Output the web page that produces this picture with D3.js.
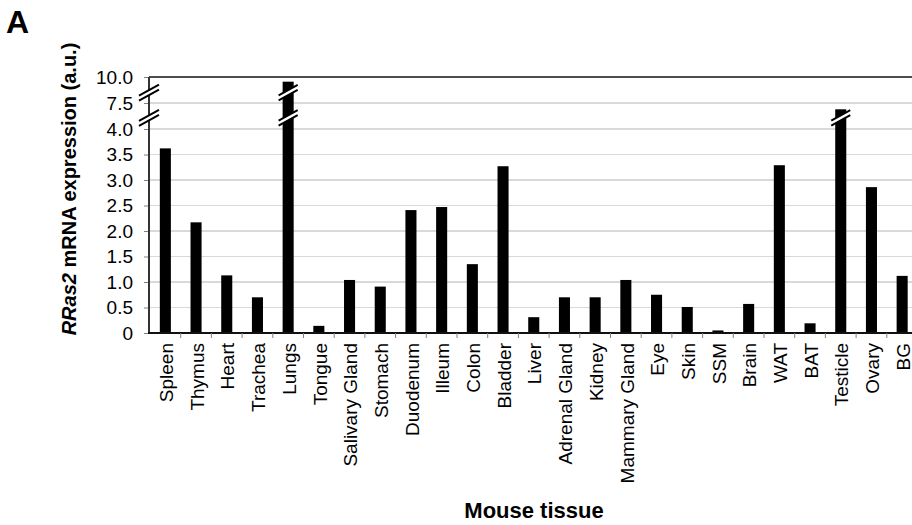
<html>
<head>
  <meta content='text/html;charset=utf-8' http-equiv='Content-Type'>
  <title>RRas2 expression by tissue</title>
<script src="https://cdn.jsdelivr.net/npm/d3@7/dist/d3.min.js"></script>
<style>
body {
  margin: 0px;
  background-color: #ffffff;
  font-family: "Liberation Sans", Arial, sans-serif;
}
svg { display: block; }
.axis text {
  font: 19px "Liberation Sans", Arial, sans-serif;
  fill: #000;
}
.axis path { display: none; }
.grid line {
  stroke: #d9d9d9;
  stroke-width: 1.5;
  shape-rendering: crispEdges;
}
.title {
  font: bold 20px "Liberation Sans", Arial, sans-serif;
  fill: #000;
}
</style>
</head>
<body>
<div class="target"></div>
<script>
// data
var tissues = ["Spleen", "Thymus", "Heart", "Trachea", "Lungs", "Tongue", "Salivary Gland",
  "Stomach", "Duodenum", "Illeum", "Colon", "Bladder", "Liver", "Adrenal Gland", "Kidney",
  "Mammary Gland", "Eye", "Skin", "SSM", "Brain", "WAT", "BAT", "Testicle", "Ovary", "BG"];
var expression = [3.62, 2.17, 1.13, 0.70, 9.55, 0.14, 1.04, 0.91, 2.41, 2.47, 1.35, 3.27,
  0.31, 0.70, 0.70, 1.04, 0.75, 0.51, 0.05, 0.57, 3.29, 0.19, 6.65, 2.86, 1.12];
var yTicks = [0, 0.5, 1, 1.5, 2, 2.5, 3, 3.5, 4, 7.5, 10];
var yTickLabels = ["0", "0.5", "1.0", "1.5", "2.0", "2.5", "3.0", "3.5", "4.0", "7.5", "10.0"];
var axisBreaks = [5.5, 8.5];

barChart(".target");

function barChart(target) {
  'use strict';

  var W = 912, H = 525;
  var left = 149, bottom = 333, plotTop = 77;

  var svg = d3.select(target).append("svg")
    .attr("width", W)
    .attr("height", H);

  svg.append("rect").attr("width", W).attr("height", H).attr("fill", "#fff");

  // broken axis: 0-4 gets most of the room, 4-7.5 and 7.5-10 one grid step each
  var y = d3.scaleLinear()
    .domain([0, 4, 7.5, 10])
    .range([bottom, bottom - 204, bottom - 230, plotTop]);

  var x = d3.scaleBand()
    .domain(tissues)
    .range([150, 150 + 30.7 * tissues.length])
    .padding(0);

  var barW = x.bandwidth() * 0.36;

  // grid
  svg.append("g")
    .attr("class", "grid")
    .selectAll("line")
    .data(yTicks.filter(function(t){ return t > 0 && t < 10; }))
    .enter().append("line")
      .attr("x1", left).attr("x2", W)
      .attr("y1", function(d){ return y(d); })
      .attr("y2", function(d){ return y(d); });

  // top border
  svg.append("line")
    .attr("x1", left).attr("x2", W)
    .attr("y1", y(10)).attr("y2", y(10))
    .attr("stroke", "#4d4d4d").attr("stroke-width", 2);

  // bars
  svg.append("g").selectAll("rect")
    .data(expression)
    .enter().append("rect")
      .attr("x", function(d, i){ return x(tissues[i]) + (x.bandwidth() - barW) / 2; })
      .attr("y", function(d){ return y(d); })
      .attr("width", barW)
      .attr("height", function(d){ return bottom - y(d); })
      .attr("fill", "#000");

  // y axis
  var yAxis = d3.axisLeft(y)
    .tickValues(yTicks)
    .tickFormat(function(d, i){ return yTickLabels[i]; })
    .tickSize(5)
    .tickPadding(11);

  var yg = svg.append("g")
    .attr("class", "axis")
    .attr("transform", "translate(" + left + ",0)")
    .call(yAxis);
  yg.selectAll(".tick line").attr("stroke", "#808080");

  svg.append("line")
    .attr("x1", left).attr("x2", left)
    .attr("y1", plotTop).attr("y2", bottom)
    .attr("stroke", "#333").attr("stroke-width", 2);

  // x axis line + boundary ticks
  svg.append("line")
    .attr("x1", left - 1).attr("x2", W)
    .attr("y1", bottom).attr("y2", bottom)
    .attr("stroke", "#111").attr("stroke-width", 2);

  svg.append("g").selectAll("line")
    .data(tissues.slice(1))
    .enter().append("line")
      .attr("x1", function(d){ return x(d); })
      .attr("x2", function(d){ return x(d); })
      .attr("y1", bottom).attr("y2", bottom + 5)
      .attr("stroke", "#808080").attr("stroke-width", 1);

  // tissue labels
  svg.append("g").attr("class", "axis").selectAll("text")
    .data(tissues)
    .enter().append("text")
      .attr("transform", function(d){
        return "translate(" + (x(d) + x.bandwidth() / 2 + 1) + "," + (bottom + 10) + ") rotate(-90)";
      })
      .attr("dy", "0.35em")
      .attr("text-anchor", "end")
      .text(function(d){ return d; });

  // break marks on the axis and on the bars that run through them
  axisBreaks.forEach(function(b){
    drawBreak(left, y(b), 10);
    expression.forEach(function(v, i){
      if (v > b) drawBreak(x(tissues[i]) + x.bandwidth() / 2, y(b), barW / 2 + 4);
    });
  });

  function drawBreak(cx, cy, half){
    var g = svg.append("g");
    var rise = half * 0.55, gap = 2.5;
    g.append("polygon")
      .attr("points", [
        [cx - half - 1, cy + rise + gap], [cx + half + 1, cy - rise + gap],
        [cx + half + 1, cy - rise - gap], [cx - half - 1, cy + rise - gap]
      ].map(function(p){ return p.join(","); }).join(" "))
      .attr("fill", "#fff");
    [-gap, gap].forEach(function(o){
      g.append("line")
        .attr("x1", cx - half).attr("y1", cy + rise + o)
        .attr("x2", cx + half).attr("y2", cy - rise + o)
        .attr("stroke", "#000").attr("stroke-width", 2);
    });
  }

  // titles
  var yt = svg.append("text")
    .attr("class", "title")
    .attr("transform", "translate(76,189) rotate(-90)")
    .attr("text-anchor", "middle");
  yt.append("tspan").attr("font-style", "italic").text("RRas2");
  yt.append("tspan").text(" mRNA expression (a.u.)");

  svg.append("text")
    .attr("class", "title")
    .attr("x", 534).attr("y", 518)
    .attr("text-anchor", "middle")
    .style("font-size", "22px")
    .text("Mouse tissue");

  svg.append("text")
    .attr("class", "title")
    .attr("x", 6).attr("y", 33)
    .style("font-size", "32px")
    .text("A");
}
</script>
</body>
</html>
